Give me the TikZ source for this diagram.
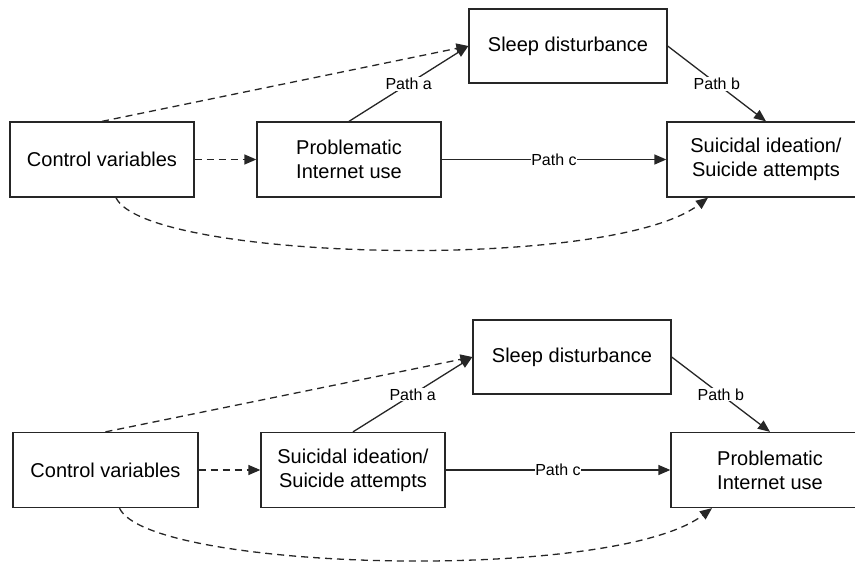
\documentclass[tikz,border=0pt]{standalone}
\usepackage{fontspec}
\setmainfont{Liberation Sans}
\usetikzlibrary{arrows.meta}
\begin{document}
\begin{tikzpicture}[x=1pt,y=-1pt,
  box/.style={draw=black!85, line width=1.3pt, rectangle, inner sep=0pt,
    minimum height=75pt, align=center, font=\fontsize{20}{24}\selectfont},
  conn/.style={draw=black!85, line width=1.3pt, -{Triangle[length=12pt,width=10pt]}},
  dconn/.style={conn, dash pattern=on 7pt off 5pt},
  lab/.style={midway, fill=white, inner sep=1pt, font=\fontsize{16}{18}\selectfont}
]
\useasboundingbox (0,0) rectangle (855,562);
% top diagram
\node[box, minimum width=184pt] (cv) at (102,159.5) {Control variables};
\node[box, minimum width=184pt] (piu) at (349,159.5) {Problematic\\Internet use};
\node[box, minimum width=198pt, minimum height=74pt] (sl) at (568,46) {Sleep disturbance};
\node[box, minimum width=198pt] (si) at (766,159.5) {Suicidal ideation/\\Suicide attempts};
\draw[dconn] (cv.north) -- (sl.west);
\draw[conn] (piu.north) -- node[lab] {Path a} (sl.west);
\draw[conn] (sl.east) -- node[lab] {Path b} (si.north);
\draw[conn] (piu.east) -- node[lab, inner sep=0pt] {Path c} (si.west);
\draw[dconn] (cv.east) -- (piu.west);
\coordinate (c1) at ([xshift=14pt]cv.south);
\coordinate (c2) at ([xshift=-58pt]si.south);
\draw[dconn] (c1) .. controls +(29,63) and +(-98,75) .. (c2);
% bottom diagram
\node[box, minimum width=185pt] (cvb) at (105.5,470) {Control variables};
\node[box, minimum width=184pt] (sib) at (353,470) {Suicidal ideation/\\Suicide attempts};
\node[box, minimum width=198pt, minimum height=74pt] (slb) at (572,357) {Sleep disturbance};
\node[box, minimum width=198pt] (piub) at (770,470) {Problematic\\Internet use};
\draw[dconn] (cvb.north) -- (slb.west);
\draw[conn] (sib.north) -- node[lab] {Path a} (slb.west);
\draw[conn] (slb.east) -- node[lab] {Path b} (piub.north);
\draw[conn] (sib.east) -- node[lab, inner sep=0pt] {Path c} (piub.west);
\draw[dconn] (cvb.east) -- (sib.west);
\coordinate (d1) at ([xshift=14pt]cvb.south);
\coordinate (d2) at ([xshift=-58pt]piub.south);
\draw[dconn] (d1) .. controls +(29,63) and +(-98,75) .. (d2);
\end{tikzpicture}
\end{document}
